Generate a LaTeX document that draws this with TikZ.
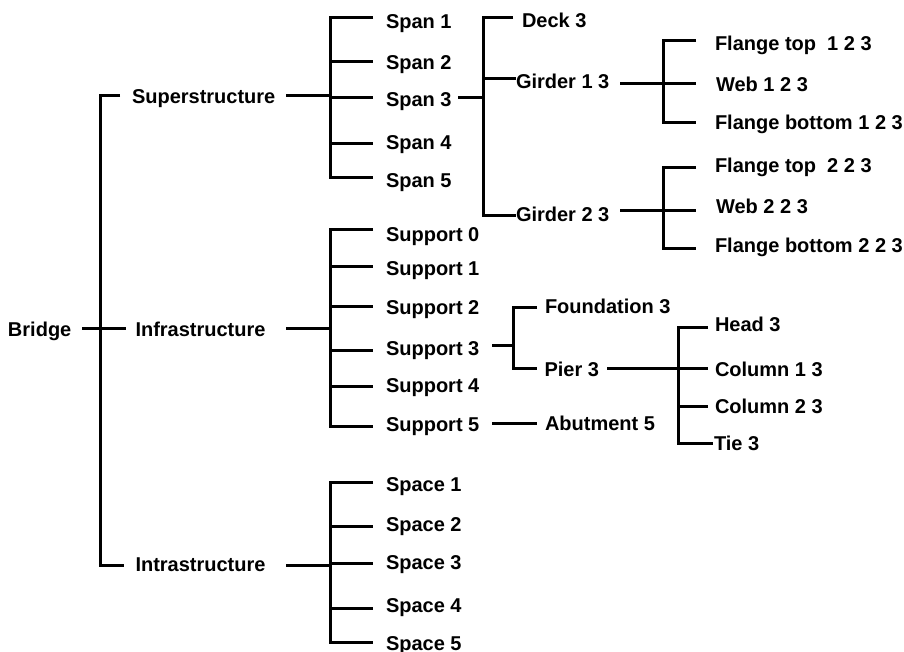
\documentclass[tikz,border=0pt]{standalone}
\usepackage{fontspec}
\setmainfont{Liberation Sans}
\usetikzlibrary{calc}
\tikzset{
  lbl/.style={inner sep=0pt, outer sep=0pt, anchor=base west, text height=14.4pt, text depth=0pt,
    font=\bfseries\fontsize{20}{24}\selectfont},
  ln/.style={line width=3pt, line join=miter, black}
}
% node + its tick coordinate
\newcommand\mkleaf[5]{\node[lbl] (#1) at (#2,#3) {#5};\coordinate (#1tk) at ($(#1.west)+(0,#4)$);}
\begin{document}
\begin{tikzpicture}[x=1pt,y=-1pt]
\useasboundingbox (0,0) rectangle (904,652);
% column positions
\coordinate (xb0) at (100,0);
\coordinate (xo1) at (286,0);
\coordinate (xb1) at (330,0);
\coordinate (xt1) at (373,0);
\coordinate (xo2) at (458,0);
\coordinate (xb2) at (483,0);
\coordinate (xtd) at (513,0);
\coordinate (xtg) at (516,0);
\coordinate (xo3) at (620,0);
\coordinate (xb3) at (663,0);
\coordinate (xt3) at (696,0);
\coordinate (xo4) at (492,0);
\coordinate (xb4) at (513,0);
\coordinate (xt4) at (537,0);
\coordinate (xo5) at (607,0);
\coordinate (xb5) at (678,0);
\coordinate (xt5) at (708,0);
\coordinate (xtt) at (713,0);
% nodes
\mkleaf{br}{8}{336}{0}{Bridge}
\mkleaf{sup}{132}{104}{-0.8}{Superstructure}
\mkleaf{inf}{135.5}{336}{0}{Infrastructure}
\mkleaf{intra}{135.5}{571.5}{0.7}{Intrastructure}
\mkleaf{sa}{386}{28.3}{-4}{Span 1}
\mkleaf{sb}{386}{69.3}{-1}{Span 2}
\mkleaf{sc}{386}{106.7}{-1.5}{Span 3}
\mkleaf{sd}{386}{150}{1}{Span 4}
\mkleaf{se}{386}{187.7}{-2.5}{Span 5}
\mkleaf{pa}{386}{241.7}{-4.5}{Support 0}
\mkleaf{pb}{386}{276}{-2}{Support 1}
\mkleaf{pc}{386}{314}{0}{Support 2}
\mkleaf{pd}{386}{355}{2.2}{Support 3}
\mkleaf{pe}{386}{392.7}{0.5}{Support 4}
\mkleaf{pf}{386}{431}{2.2}{Support 5}
\mkleaf{qa}{386}{491}{-1.8}{Space 1}
\mkleaf{qb}{386}{531.7}{1.5}{Space 2}
\mkleaf{qc}{386}{569.3}{0.9}{Space 3}
\mkleaf{qd}{386}{612.7}{2.5}{Space 4}
\mkleaf{qe}{386}{650}{-0.8}{Space 5}
\mkleaf{deck}{522}{27.3}{-2.1}{Deck 3}
\mkleaf{ga}{516}{88.3}{-2.1}{Girder 1 3}
\mkleaf{gb}{516}{221.7}{1.5}{Girder 2 3}
\mkleaf{fta}{715}{51}{-2.8}{Flange top\ \ 1 2 3}
\mkleaf{wa}{716}{91.7}{-0.5}{Web 1 2 3}
\mkleaf{fba}{715}{130}{0.2}{Flange bottom 1 2 3}
\mkleaf{ftb}{715}{172.7}{2.5}{Flange top\ \ 2 2 3}
\mkleaf{wb}{716}{213.3}{4.9}{Web 2 2 3}
\mkleaf{fbb}{715}{252}{4.2}{Flange bottom 2 2 3}
\mkleaf{fnd}{545}{313}{1.2}{Foundation 3}
\mkleaf{pier}{544.5}{376.7}{-1.5}{Pier 3}
\mkleaf{abut}{545}{430}{0.2}{Abutment 5}
\mkleaf{head}{715}{331.7}{2.5}{Head 3}
\mkleaf{ca}{715}{376}{-0.8}{Column 1 3}
\mkleaf{cb}{715}{413.3}{0}{Column 2 3}
\mkleaf{tie}{714}{450}{0.2}{Tie 3}
% level 0
\draw[ln] ([xshift=10.7pt]br.east) -- ([xshift=-9.5pt]inf.west);
\draw[ln] ([xshift=-12pt]suptk) -- (xb0 |- suptk) -- (xb0 |- intratk) -- ([xshift=-12pt]intratk);
% spans
\draw[ln] (xo1 |- suptk) -- (xb1 |- suptk);
\draw[ln] (xt1 |- satk) -- (xb1 |- satk) -- (xb1 |- setk) -- (xt1 |- setk);
\draw[ln] (xb1 |- sbtk) -- (xt1 |- sbtk);
\draw[ln] (xb1 |- sctk) -- (xt1 |- sctk);
\draw[ln] (xb1 |- sdtk) -- (xt1 |- sdtk);
% supports
\draw[ln] (xo1 |- inftk) -- (xb1 |- inftk);
\draw[ln] (xt1 |- patk) -- (xb1 |- patk) -- (xb1 |- pftk) -- (xt1 |- pftk);
\draw[ln] (xb1 |- pbtk) -- (xt1 |- pbtk);
\draw[ln] (xb1 |- pctk) -- (xt1 |- pctk);
\draw[ln] (xb1 |- pdtk) -- (xt1 |- pdtk);
\draw[ln] (xb1 |- petk) -- (xt1 |- petk);
% spaces
\draw[ln] (xo1 |- intratk) -- (xb1 |- intratk);
\draw[ln] (xt1 |- qatk) -- (xb1 |- qatk) -- (xb1 |- qetk) -- (xt1 |- qetk);
\draw[ln] (xb1 |- qbtk) -- (xt1 |- qbtk);
\draw[ln] (xb1 |- qctk) -- (xt1 |- qctk);
\draw[ln] (xb1 |- qdtk) -- (xt1 |- qdtk);
% span 3
\draw[ln] (xo2 |- sctk) -- (xb2 |- sctk);
\draw[ln] (xtd |- decktk) -- (xb2 |- decktk) -- (xb2 |- gbtk) -- (xtg |- gbtk);
\draw[ln] (xb2 |- gatk) -- (xtg |- gatk);
% girder 1
\draw[ln] (xo3 |- watk) -- (xt3 |- watk);
\draw[ln] (xt3 |- ftatk) -- (xb3 |- ftatk) -- (xb3 |- fbatk) -- (xt3 |- fbatk);
% girder 2
\draw[ln] (xo3 |- wbtk) -- (xt3 |- wbtk);
\draw[ln] (xt3 |- ftbtk) -- (xb3 |- ftbtk) -- (xb3 |- fbbtk) -- (xt3 |- fbbtk);
% support 3
\draw[ln] ($(xo4 |- pd.west)+(0,-2.8)$) -- ($(xb4 |- pd.west)+(0,-2.8)$);
\draw[ln] (xt4 |- fndtk) -- (xb4 |- fndtk) -- (xb4 |- piertk) -- (xt4 |- piertk);
% support 5
\draw[ln] (xo4 |- abuttk) -- (xt4 |- abuttk);
% pier
\draw[ln] (xo5 |- catk) -- (xt5 |- catk);
\draw[ln] (xt5 |- headtk) -- (xb5 |- headtk) -- (xb5 |- tietk) -- (xtt |- tietk);
\draw[ln] (xb5 |- cbtk) -- (xt5 |- cbtk);
\end{tikzpicture}
\end{document}
